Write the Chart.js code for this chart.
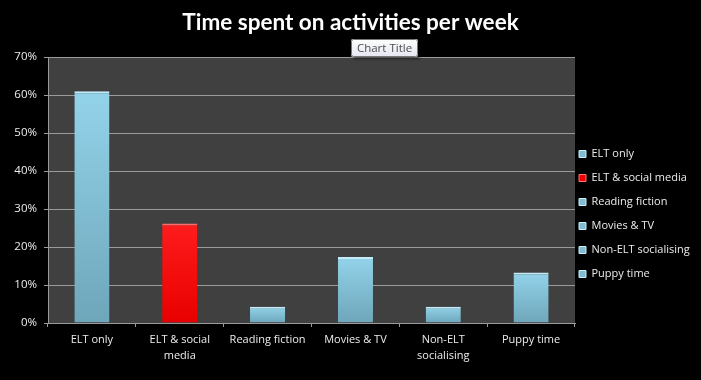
<!DOCTYPE html>
<html><head><meta charset="utf-8">
<script src="https://cdn.jsdelivr.net/npm/chart.js@4/dist/chart.umd.min.js"></script>
<style>html,body{margin:0;padding:0;background:#000;overflow:hidden}canvas{display:block}</style>
</head><body>
<canvas id="c" width="701" height="380"></canvas>
<script>
// ---- data ----
const categories = [['ELT only'], ['ELT & social', 'media'], ['Reading fiction'], ['Movies & TV'], ['Non-ELT', 'socialising'], ['Puppy time']];
const legendNames = ['ELT only', 'ELT & social media', 'Reading fiction', 'Movies & TV', 'Non-ELT socialising', 'Puppy time'];
const timeShare = [61, 26.2, 4.3, 17.4, 4.3, 13.3];   // percent of week
const highlighted = [false, true, false, false, false, false];
const yMax = 70, yStep = 10;
const chartTitle = 'Time spent on activities per week';
const hoverHint = 'Chart Title';

const FONT = "'Open Sans', 'Noto Sans', sans-serif";
const TXT = '#ececec';
const GRID = '#9a9a9a';

function barFill(ctx) {
  const chart = ctx.chart;
  const red = highlighted[ctx.dataIndex];
  if (!chart.chartArea || ctx.type !== 'data') return red ? '#ff0000' : '#86c6dd';
  const y = chart.scales.y;
  const top = y.getPixelForValue(ctx.parsed.y), bot = y.getPixelForValue(0);
  const g = chart.ctx.createLinearGradient(0, top, 0, bot);
  if (red) { g.addColorStop(0, '#ff1c1c'); g.addColorStop(1, '#e80000'); }
  else { g.addColorStop(0, '#93d3ea'); g.addColorStop(1, '#6ea6ba'); }
  return g;
}

const plotBg = {
  id: 'plotBg',
  beforeDraw(chart) {
    const { ctx, chartArea: a } = chart;
    ctx.save();
    ctx.fillStyle = '#000';
    ctx.fillRect(0, 0, chart.width, chart.height);
    ctx.fillStyle = '#404040';
    ctx.fillRect(a.left, a.top, a.right - a.left, a.bottom - a.top);
    ctx.restore();
  }
};

const legendPlace = {
  id: 'legendPlace',
  afterInit(chart) {
    const lg = chart.legend;
    const f = lg.fit.bind(lg);
    lg.fit = function () { f(); this.width = 126; };
  },
  afterLayout(chart) {
    const lg = chart.legend;
    lg.left = 566; lg.top = 135.5;
  }
};

const hintBox = {
  id: 'hintBox',
  afterDraw(chart) {
    const ctx = chart.ctx;
    const x = 351, y = 39, w = 67, h = 18;
    ctx.save();
    ctx.shadowColor = 'rgba(0,0,0,0.5)'; ctx.shadowOffsetX = 2; ctx.shadowOffsetY = 2; ctx.shadowBlur = 3;
    const g = ctx.createLinearGradient(0, y, 0, y + h);
    g.addColorStop(0, '#ffffff'); g.addColorStop(1, '#e4e5f0');
    ctx.fillStyle = g;
    ctx.beginPath(); ctx.roundRect(x, y, w, h, 2); ctx.fill();
    ctx.shadowColor = 'transparent';
    ctx.strokeStyle = '#767676'; ctx.lineWidth = 1;
    ctx.beginPath(); ctx.roundRect(x + 0.5, y + 0.5, w - 1, h - 1, 2); ctx.stroke();
    ctx.fillStyle = '#4c4c4c';
    ctx.font = "11.5px " + FONT;
    ctx.textAlign = 'center'; ctx.textBaseline = 'middle';
    ctx.fillText(hoverHint, x + w / 2, y + h / 2 + 0.5);
    ctx.restore();
  }
};

new Chart(document.getElementById('c'), {
  type: 'bar',
  data: {
    labels: categories,
    datasets: [{
      data: timeShare,
      backgroundColor: barFill,
      borderColor: ctx => highlighted[ctx.dataIndex] ? '#ff6a6a' : '#c2ecf8',
      borderWidth: { top: 2, left: 0, right: 0, bottom: 0 },
      borderSkipped: 'bottom',
      barPercentage: 0.4,
      categoryPercentage: 1
    }]
  },
  options: {
    responsive: false,
    animation: false,
    devicePixelRatio: 1,
    layout: { padding: 0 },
    plugins: {
      tooltip: { enabled: false },
      title: {
        display: true, text: chartTitle, color: '#ffffff',
        font: { family: "Lato, 'Open Sans', sans-serif", size: 22.5, weight: 'bold', lineHeight: 1.2 },
        padding: { top: 9, bottom: 21 }
      },
      legend: {
        position: 'right', align: 'start', fullSize: false,
        labels: {
          boxWidth: 7, boxHeight: 7, padding: 13, color: TXT,
          font: { family: FONT, size: 11 },
          generateLabels: () => legendNames.map((n, i) => ({
            text: n,
            fillStyle: highlighted[i] ? '#ee0000' : '#7fbcd2',
            strokeStyle: highlighted[i] ? '#ff7777' : '#c8eef9',
            lineWidth: 1, fontColor: TXT, hidden: false, index: i
          }))
        }
      }
    },
    scales: {
      x: {
        afterFit(s) { s.height = 57; },
        grid: { display: true, drawOnChartArea: false, offset: true, tickLength: 4, color: GRID },
        border: { color: GRID },
        ticks: { color: TXT, padding: 5, maxRotation: 0, autoSkip: false, font: { family: FONT, size: 11 , lineHeight: 1.45 } }
      },
      y: {
        min: 0, max: yMax,
        afterFit(s) { s.width = 48; },
        grid: { color: GRID, tickLength: 4, tickColor: GRID },
        border: { color: GRID },
        ticks: { stepSize: yStep, color: TXT, padding: 7, font: { family: FONT, size: 11.5 }, callback: v => v + '%' }
      }
    }
  },
  plugins: [plotBg, legendPlace, hintBox]
});
</script>
</body></html>
